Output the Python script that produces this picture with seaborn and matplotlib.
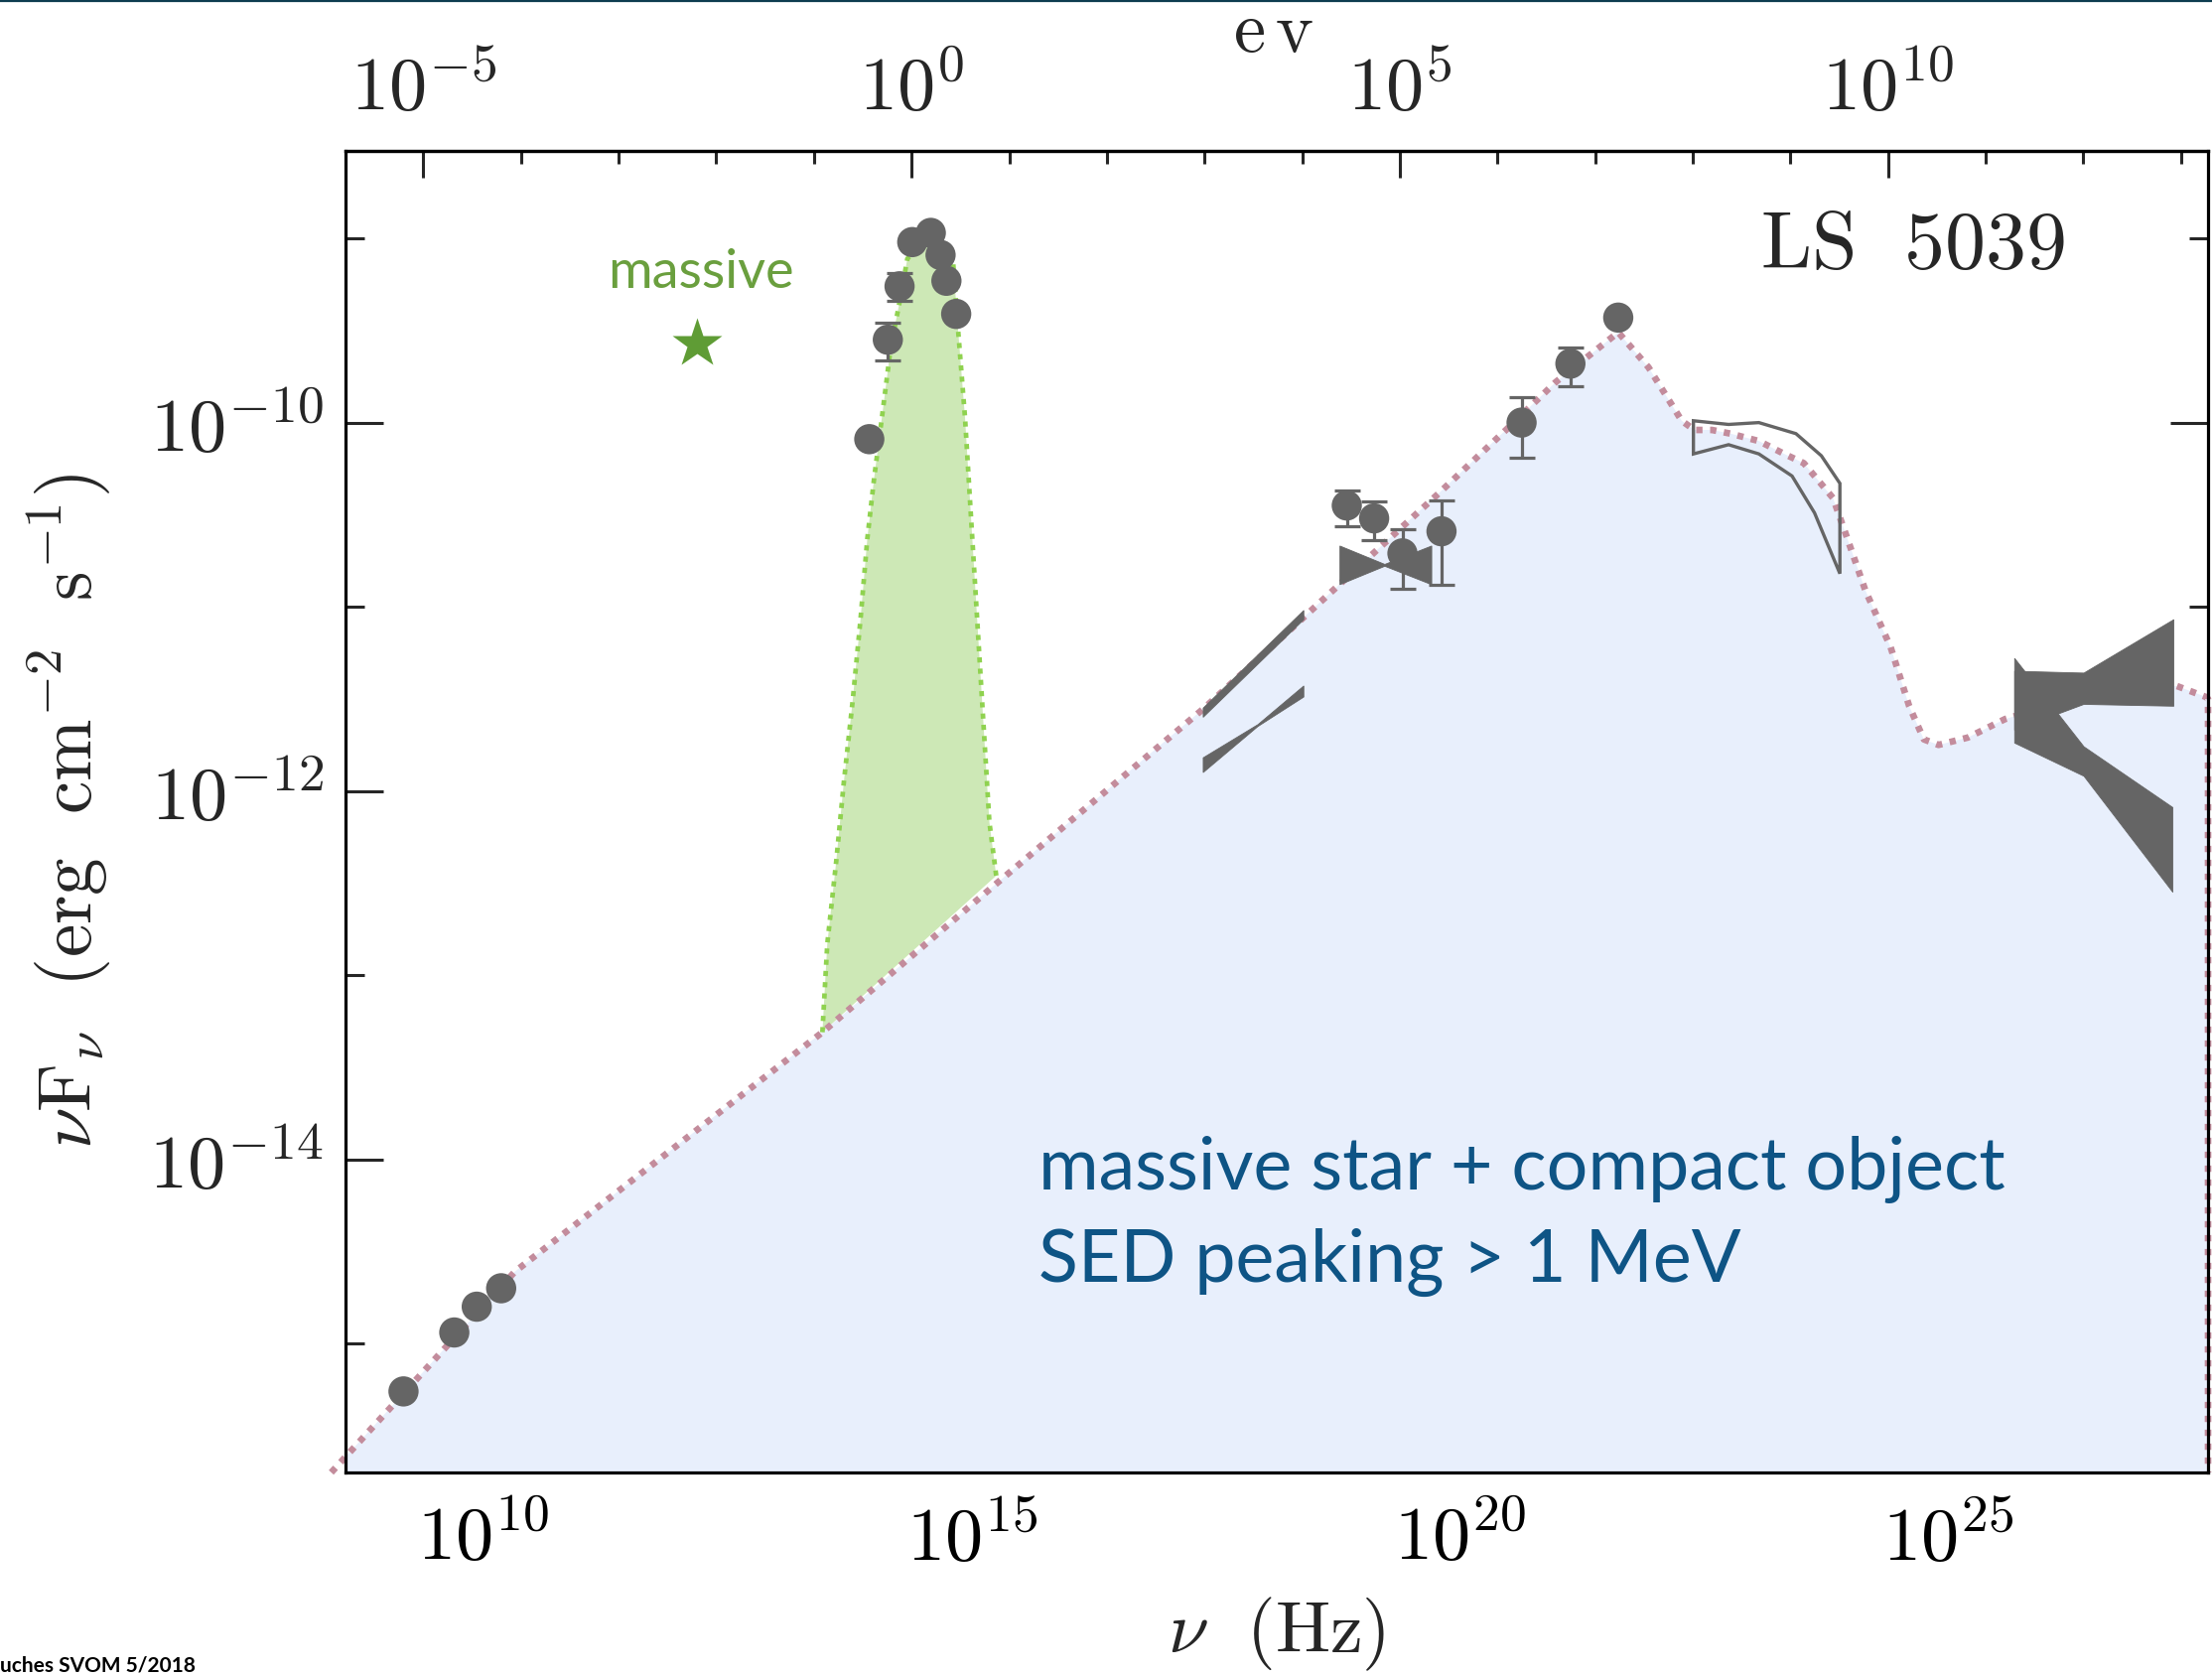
import numpy as np
import pandas as pd
import matplotlib
matplotlib.use("Agg")
import matplotlib.pyplot as plt
import seaborn as sns
from matplotlib.ticker import FixedLocator, NullFormatter, FuncFormatter
from matplotlib.lines import Line2D

# ---------------------------------------------------------------------------
# LS 5039 spectral energy distribution (log10 nu [Hz], log10 nuFnu [cgs])
# ---------------------------------------------------------------------------
radio_lognu = [9.18, 9.70, 9.93, 10.18]
radio_logF = [-15.26, -14.94, -14.80, -14.70]

optical_lognu = [13.95, 14.14, 14.26, 14.39, 14.58, 14.68, 14.74, 14.84]
optical_logF = [-10.09, -9.55, -9.26, -9.02, -8.97, -9.09, -9.23, -9.41]
optical_hi = [np.nan, -9.46, -9.19, np.nan, np.nan, np.nan, np.nan, np.nan]
optical_lo = [np.nan, -9.66, -9.34, np.nan, np.nan, np.nan, np.nan, np.nan]

xray_lognu = [18.84, 19.12, 19.41, 19.81, 20.63, 21.13, 21.62]
xray_logF = [-10.45, -10.52, -10.71, -10.59, -10.00, -9.68, -9.43]
xray_hi = [-10.37, -10.43, -10.58, -10.42, -9.86, -9.59, np.nan]
xray_lo = [-10.56, -10.64, -10.90, -10.88, -10.19, -9.80, np.nan]

star_lognu = [12.19]
star_logF = [-9.57]

# broadband emission model (dotted curve)
model_lognu = [8.44, 9.32, 10.32, 13.47, 15.28, 17.38, 18.27, 19.05, 19.79, 20.47,
               20.98, 21.62, 21.93, 22.27, 22.40, 22.58, 22.77, 23.06, 23.32, 23.52,
               23.82, 23.96, 24.15, 24.41, 24.60, 24.75, 24.90, 25.20, 25.58, 26.40,
               27.34, 27.64, 27.66, 27.66]
model_logF = [-15.70, -15.19, -14.61, -13.31, -12.49, -11.55, -11.12, -10.74, -10.38, -10.04,
              -9.78, -9.51, -9.70, -9.99, -10.04, -10.04, -10.06, -10.10, -10.17, -10.22,
              -10.41, -10.62, -10.91, -11.22, -11.54, -11.72, -11.75, -11.71, -11.61, -11.48,
              -11.43, -11.49, -11.50, -15.70]

# stellar (massive companion) component
bb_lognu = [13.47, 13.52, 13.61, 13.69, 13.78, 13.86, 13.93, 14.00, 14.08, 14.17,
            14.27, 14.34, 14.56, 14.81, 14.86, 14.93, 14.98, 15.03, 15.08, 15.13,
            15.18, 15.25]
bb_logF = [-13.31, -12.83, -12.39, -11.95, -11.51, -11.07, -10.63, -10.30, -9.97, -9.59,
           -9.32, -9.11, -9.00, -9.14, -9.50, -9.97, -10.41, -10.85, -11.29, -11.73,
           -12.17, -12.46]

# X-ray spectral bow ties
bowA_lognu = [18.77, 19.23, 19.71]
bowA_up = [-10.67, -10.77, -10.67]
bowA_lo = [-10.88, -10.78, -10.88]

bowB_lognu = [17.37, 18.40]
bowB_up = [-11.55, -11.02]
bowB_lo = [-11.60, -11.07]

bowC_lognu = [17.37, 17.93, 18.40]
bowC_up = [-11.82, -11.64, -11.43]
bowC_lo = [-11.90, -11.65, -11.49]

# GeV bow tie (outline)
gev_up_lognu = [22.39, 22.75, 23.06, 23.44, 23.70, 23.89]
gev_up = [-9.99, -10.01, -10.00, -10.06, -10.18, -10.33]
gev_lo_lognu = [22.39, 22.75, 23.06, 23.40, 23.63, 23.89]
gev_lo = [-10.17, -10.12, -10.17, -10.29, -10.49, -10.82]

# TeV bow ties (two orbital phases)
tev1_lognu = [25.68, 26.39, 27.31]
tev1_up = [-11.35, -11.36, -11.07]
tev1_lo = [-11.67, -11.53, -11.54]

tev2_lognu = [25.68, 26.39, 27.30]
tev2_up = [-11.28, -11.76, -12.09]
tev2_lo = [-11.74, -11.92, -12.55]

XLIM = (8.586, 27.66)
YLIM = (-15.70, -8.525)
H_EV = 4.135667e-15  # eV s

GREY = "#656565"
MODEL_C = "#c38c9c"
FILL_BLUE = "#e8effc"
FILL_GREEN = "#cde8b6"
LINE_GREEN = "#8fd24f"
STAR_GREEN = "#5f9c35"
TEXT_BLUE = "#0e5485"


def p(v):
    return np.power(10.0, np.asarray(v, dtype=float))


sns.set_theme(style="white")
plt.rcParams.update({
    "mathtext.fontset": "cm",
    "axes.linewidth": 1.15,
    "axes.edgecolor": "black",
})
plt.rcParams["font.family"] = ["Lato", "DejaVu Sans"]

W, H = 2228, 1688
fig = plt.figure(figsize=(W / 200, H / 200), dpi=200)
ax = fig.add_axes([348 / W, 1 - 1483 / H, 1876 / W, 1331 / H])
ax.set_xscale("log")
ax.set_yscale("log")
ax.set_xlim(p(XLIM[0]), p(XLIM[1]))
ax.set_ylim(p(YLIM[0]), p(YLIM[1]))
ax.set_facecolor("white")

# model region
model = pd.DataFrame({"nu": p(model_lognu), "F": p(model_logF)})
ax.fill_between(model["nu"][:-1], model["F"][:-1], 1e-30, color=FILL_BLUE, lw=0, zorder=1)

# stellar component
bb = pd.DataFrame({"nu": p(bb_lognu), "F": p(bb_logF)})
ax.fill(bb["nu"], bb["F"], color=FILL_GREEN, lw=0, zorder=2)
sns.lineplot(data=bb, x="nu", y="F", sort=False, estimator=None, ax=ax,
             color=LINE_GREEN, lw=1.7, linestyle=(0, (1.1, 1.3)),
             dash_capstyle="butt", zorder=3, legend=False)

sns.lineplot(data=model, x="nu", y="F", sort=False, estimator=None, ax=ax,
             color=MODEL_C, lw=2.4, linestyle=(0, (0.95, 1.15)),
             dash_capstyle="butt", zorder=4, clip_on=False, legend=False)


def bowtie(lognu, up, lo):
    xs = np.concatenate([p(lognu), p(lognu)[::-1]])
    ys = np.concatenate([p(up), p(lo)[::-1]])
    ax.fill(xs, ys, color=GREY, lw=0.3, zorder=5)


bowtie(bowA_lognu, bowA_up, bowA_lo)
bowtie(bowB_lognu, bowB_up, bowB_lo)
bowtie(bowC_lognu, bowC_up, bowC_lo)
bowtie(tev1_lognu, tev1_up, tev1_lo)
bowtie(tev2_lognu, tev2_up, tev2_lo)

gev_x = np.concatenate([p(gev_up_lognu), p(gev_lo_lognu)[::-1]])
gev_y = np.concatenate([p(gev_up), p(gev_lo)[::-1]])
ax.fill(gev_x, gev_y, facecolor="none", edgecolor=GREY, lw=1.2, zorder=5)

# measurements
pts = pd.DataFrame({
    "nu": p(radio_lognu + optical_lognu + xray_lognu),
    "F": p(radio_logF + optical_logF + xray_logF),
    "hi": p([np.nan] * len(radio_lognu) + optical_hi + xray_hi),
    "lo": p([np.nan] * len(radio_lognu) + optical_lo + xray_lo),
})
eb = pts.dropna()
ax.errorbar(eb["nu"], eb["F"], yerr=[eb["F"] - eb["lo"], eb["hi"] - eb["F"]],
            fmt="none", ecolor=GREY, elinewidth=1.15, capsize=4.8, capthick=1.15, zorder=6)
sns.scatterplot(data=pts, x="nu", y="F", ax=ax, s=120, color=GREY,
                edgecolor="none", linewidth=0, zorder=7, legend=False)

ax.plot(p(star_lognu), p(star_logF), marker="*", ms=19, color=STAR_GREEN,
        mec="none", ls="none", zorder=7)

# axes, ticks
fmt = FuncFormatter(lambda v, pos: r"$10^{%d}$" % int(round(np.log10(v))))
ax.xaxis.set_major_locator(FixedLocator(p([10, 15, 20, 25])))
ax.xaxis.set_minor_locator(FixedLocator(p(range(8, 29))))
ax.xaxis.set_major_formatter(fmt)
ax.xaxis.set_minor_formatter(NullFormatter())
ax.yaxis.set_major_locator(FixedLocator(p([-16, -14, -12, -10, -8])))
ax.yaxis.set_minor_locator(FixedLocator(p([-15, -13, -11, -9])))
ax.yaxis.set_major_formatter(fmt)
ax.yaxis.set_minor_formatter(NullFormatter())

LBL = 27.5
ax.tick_params(axis="x", which="major", direction="in", length=9.8, width=1.1,
               labelsize=LBL, pad=11, bottom=True, top=False, colors="black")
ax.tick_params(axis="x", which="minor", direction="in", length=4.8, width=1.1,
               bottom=True, top=False)
ax.tick_params(axis="y", which="major", direction="in", length=13.8, width=1.1,
               labelsize=LBL, pad=8, left=True, right=True, labelright=False)
ax.tick_params(axis="y", which="minor", direction="in", length=7.0, width=1.1,
               left=True, right=True)
ax.set_xlabel("")
ax.set_ylabel("")
for s in ax.spines.values():
    s.set_visible(True)
    s.set_color("black")
    s.set_linewidth(1.15)
    s.set_zorder(10)

sec = ax.secondary_xaxis("top", functions=(lambda x: x * H_EV, lambda e: e / H_EV))
sec.set_xticks(p([-5, 0, 5, 10]))
sec.set_xticks(p(range(-6, 14)), minor=True)
sec.xaxis.set_major_formatter(fmt)
sec.xaxis.set_minor_formatter(NullFormatter())
sec.tick_params(axis="x", which="major", direction="in", length=9.8, width=1.1,
                labelsize=LBL, pad=10)
sec.tick_params(axis="x", which="minor", direction="in", length=4.8, width=1.1)
sec.spines["top"].set_linewidth(1.15)


def fx(px):
    return px / W


def fy(py):
    return 1 - py / H


# labels
fig.text(fx(1283), fy(52), r"$\mathrm{e\,v}$", fontsize=26, ha="center", va="baseline")
fig.text(fx(1286), fy(1664), r"$\nu\ \ (\mathrm{Hz})$", fontsize=26.5, ha="center",
         va="baseline")
fig.text(fx(70), fy(817), r"$\nu\mathrm{F}_\nu\ \ (\mathrm{erg\ \ cm^{-2}\ \ s^{-1}})$",
         fontsize=27, rotation=90, ha="center", va="center")

fig.text(fx(2080), fy(270), r"$\mathrm{LS\ \ 5039}$", fontsize=29.5, ha="right",
         va="baseline")
fig.text(fx(706), fy(274), "massive", fontsize=19.5, color="#6a9f3e", ha="center",
         va="center", fontweight="normal")
fig.text(fx(1046), fy(1198), "massive star + compact object", fontsize=26.5,
         color=TEXT_BLUE, ha="left", va="baseline", fontweight="normal")
fig.text(fx(1046), fy(1291), "SED peaking > 1 MeV", fontsize=26.5,
         color=TEXT_BLUE, ha="left", va="baseline", fontweight="normal")
fig.text(fx(0), fy(1668), "uches SVOM 5/2018", fontsize=7.5, color="black",
         ha="left", va="top", fontweight="bold")

fig.add_artist(Line2D([0, 1], [1 - 0.6 / H, 1 - 0.6 / H], color="#0d3c50", lw=0.8))

fig.savefig("out.png", dpi=200, facecolor="white")
